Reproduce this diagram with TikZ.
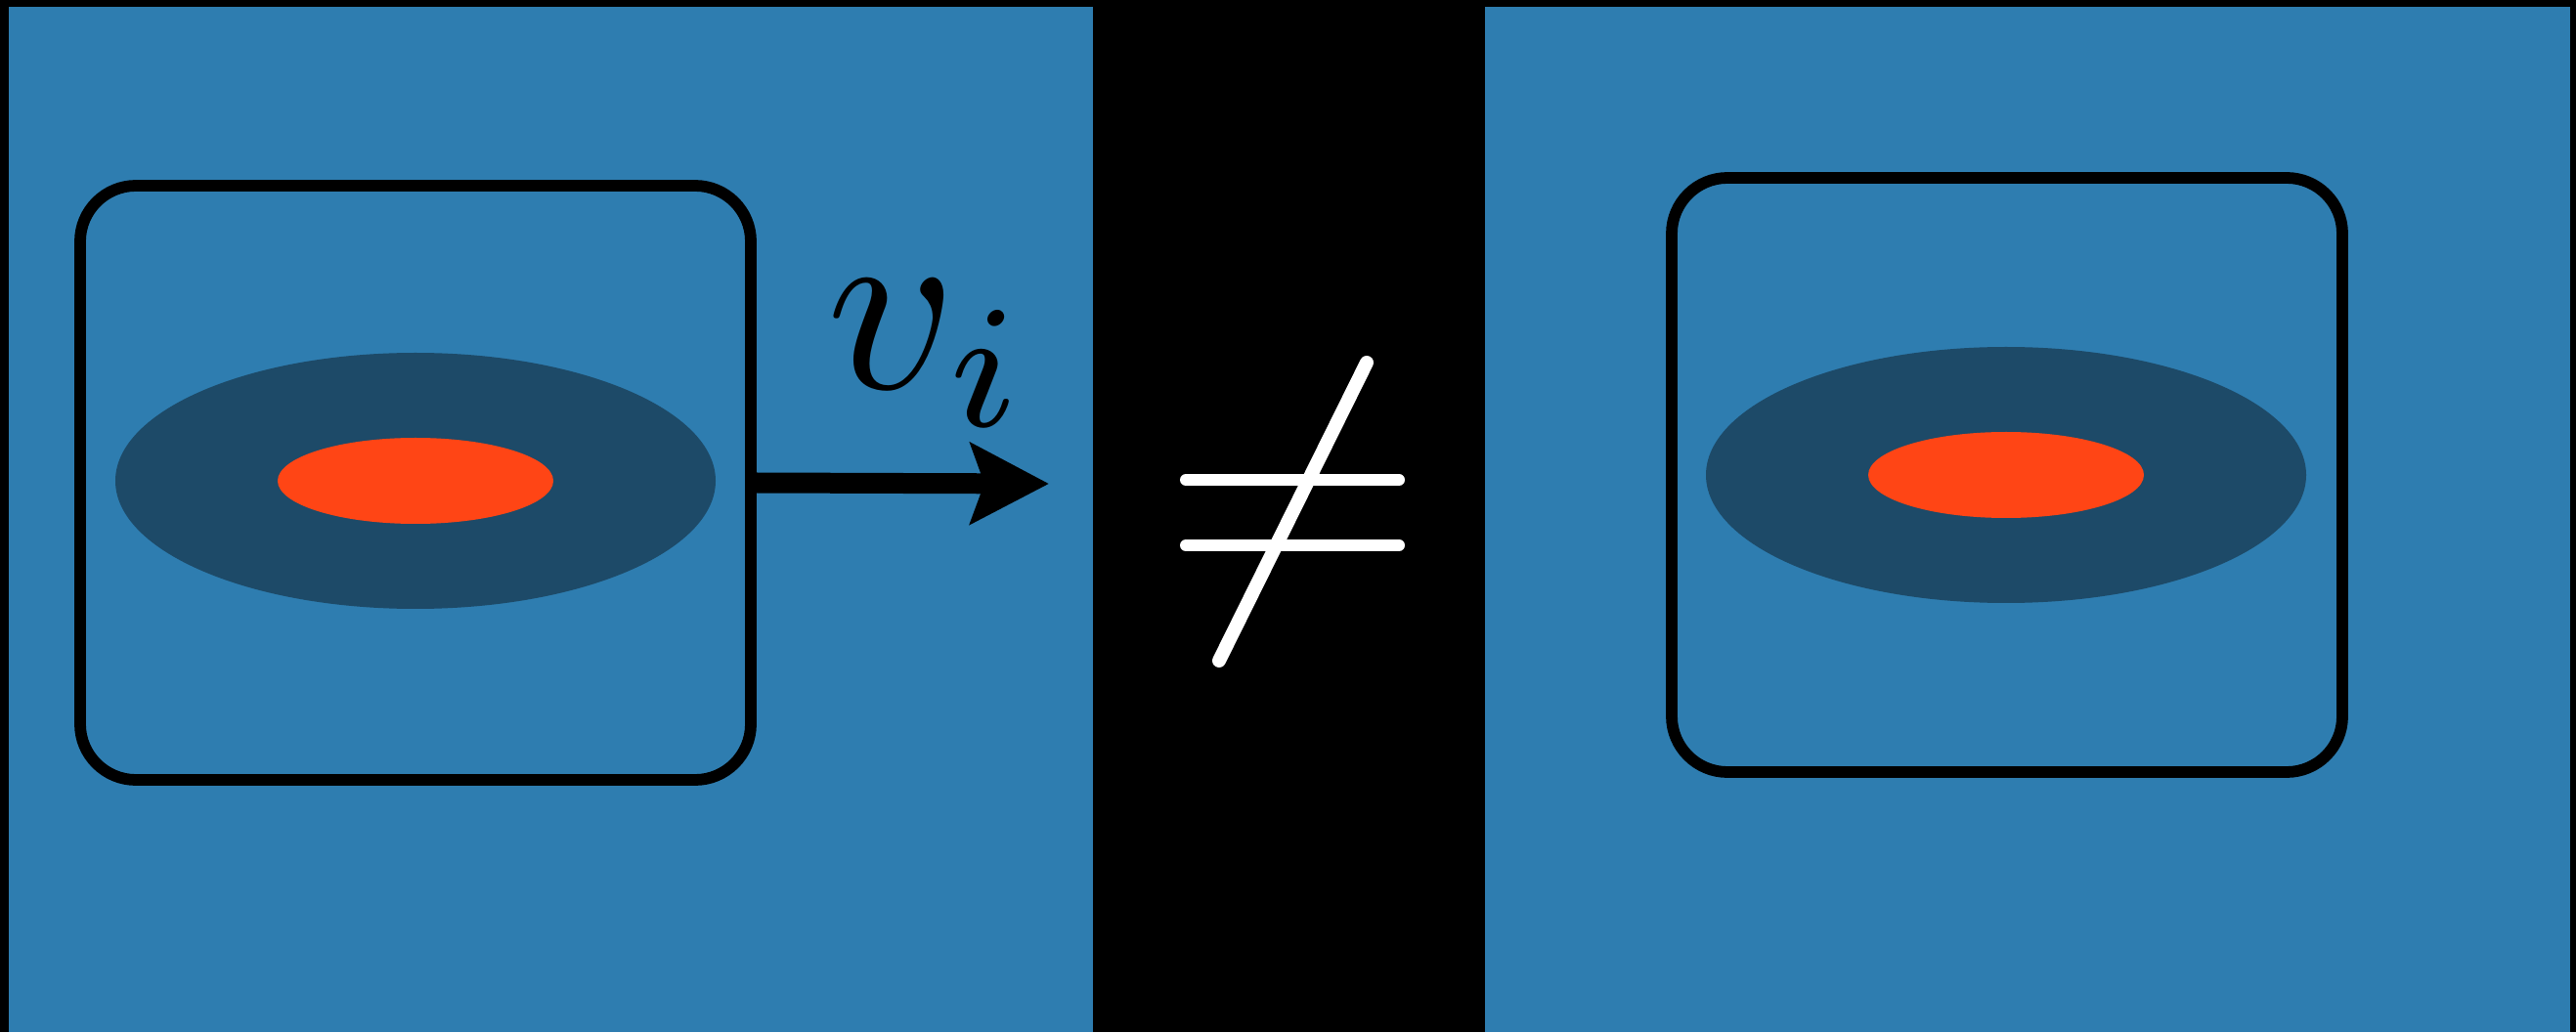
\documentclass[tikz,border=0pt]{standalone}
\usetikzlibrary{shapes.geometric,arrows.meta,positioning}

\definecolor{paneblue}{HTML}{2E7DB0}
\definecolor{coreblue}{HTML}{1D4A68}
\definecolor{corered}{HTML}{FF4515}

\begin{document}
\begin{tikzpicture}[
        node distance=16.28cm,
        >=Stealth,
        % frame round each object
        objbox/.style={
            rectangle,
            draw=black,
            rounded corners=0.57cm,
            minimum width=6.86cm,
            minimum height=6.08cm,
            line width=0.118cm
        },
        % outer halo
        halo/.style={
            ellipse,
            fill=coreblue,
            inner sep=0pt,
            minimum width=6.14cm,
            minimum height=2.62cm
        },
        % inner core
        core/.style={
            ellipse,
            fill=corered,
            inner sep=0pt,
            minimum width=2.82cm,
            minimum height=0.88cm
        },
        % velocity arrow
        vel_arrow/.style={
            -{Stealth[length=0.8cm,width=0.82cm,inset=0.14cm]},
            line width=0.21cm
        },
        % white strokes of the sign
        sign_line/.style={
            white,
            line width=0.12cm,
            line cap=round
        }
    ]

    % --- 0. background ---
    \fill[black] (0,0) rectangle (26.35,10.56);
    \useasboundingbox (0,0) rectangle (26.35,10.56);
    \fill[paneblue] (0.09,0) rectangle (11.18,10.49);
    \fill[paneblue] (15.19,0) rectangle (26.29,10.49);

    % --- 1. left panel (moving) ---
    \node (lbox) [objbox] at (4.25,5.62) {};
    \node (lhalo) [halo] at (4.25,5.64) {};
    \node (lcore) [core] at (lhalo.center) {};

    % --- 2. right panel (at rest) ---
    \node (rbox) [objbox, right of=lbox, yshift=0.08cm] {};
    \node (rhalo) [halo] at (20.52,5.70) {};
    \node (rcore) [core] at (rhalo.center) {};

    % --- 3. velocity ---
    \coordinate (tip) at (10.73,5.61);
    \draw[vel_arrow] (lbox.east) -- (tip);
    \node (vel) [anchor=base west, inner sep=0pt, scale=7.3] at (8.40,6.58) {$v_i$};

    % --- 4. not equal ---
    \coordinate (eqa) at (12.13,5.65);
    \coordinate (eqb) at (14.31,5.65);
    \coordinate (eqc) at (12.13,4.98);
    \coordinate (eqd) at (14.31,4.98);
    \coordinate (sla) at (12.47,3.80);
    \coordinate (slb) at (13.98,6.85);
    \draw[sign_line] (eqa) -- (eqb);
    \draw[sign_line] (eqc) -- (eqd);
    \draw[sign_line, line width=0.14cm] (sla) -- (slb);

\end{tikzpicture}
\end{document}
